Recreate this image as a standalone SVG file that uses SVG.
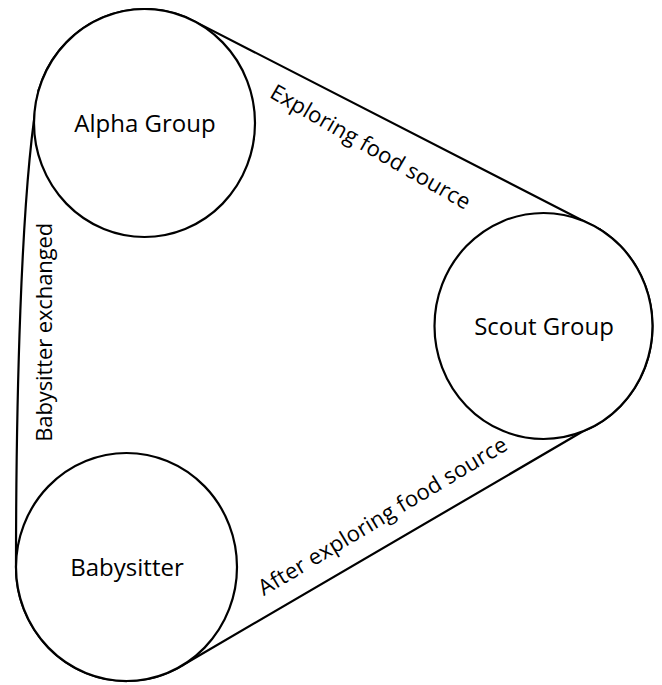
<svg xmlns="http://www.w3.org/2000/svg" width="662" height="685" viewBox="0 0 662 685">
  <style>
    .belt { fill: none; stroke: #000; stroke-width: 2.2; stroke-linejoin: round; stroke-linecap: round; }
    .node { fill: #fff; stroke: #000; stroke-width: 2.2; }
    .nlabel { font-family: "Open Sans", "Liberation Sans", sans-serif; font-size: 24px; fill: #000; text-anchor: middle; }
    .elabel { font-family: "Open Sans", "Liberation Sans", sans-serif; font-size: 22px; fill: #000; text-anchor: middle; }
  </style>
  <rect width="662" height="685" fill="#fff"/>
  <g id="connectors">
    <path class="belt" d="M 38.7 90 A 110.5 114 0 0 1 195 21.6 L 600 229.4"/>
    <path class="belt" d="M 600 229.4 A 109 113 0 0 1 583 431.3 L 183 665"/>
    <path class="belt" d="M 183 665 A 110.5 114 0 0 1 16 567 C 16 420 20 190 38.7 90"/>
    <text class="elabel" transform="translate(366.8,153.4) rotate(30)" textLength="227" lengthAdjust="spacing">Exploring food source</text>
    <text class="elabel" transform="translate(386.4,522.6) rotate(-31)" textLength="286" lengthAdjust="spacing">After exploring food source</text>
    <text class="elabel" transform="translate(52,332.3) rotate(-90)" textLength="219" lengthAdjust="spacing">Babysitter exchanged</text>
  </g>
  <g id="alpha">
    <ellipse class="node" cx="144.5" cy="123" rx="110.5" ry="114"/>
    <text class="nlabel" x="145" y="132">Alpha Group</text>
  </g>
  <g id="scout">
    <ellipse class="node" cx="543.5" cy="326" rx="109" ry="113"/>
    <text class="nlabel" x="544" y="335">Scout Group</text>
  </g>
  <g id="babysitter">
    <ellipse class="node" cx="126.5" cy="567" rx="110.5" ry="114"/>
    <text class="nlabel" x="127" y="575.5">Babysitter</text>
  </g>
</svg>
